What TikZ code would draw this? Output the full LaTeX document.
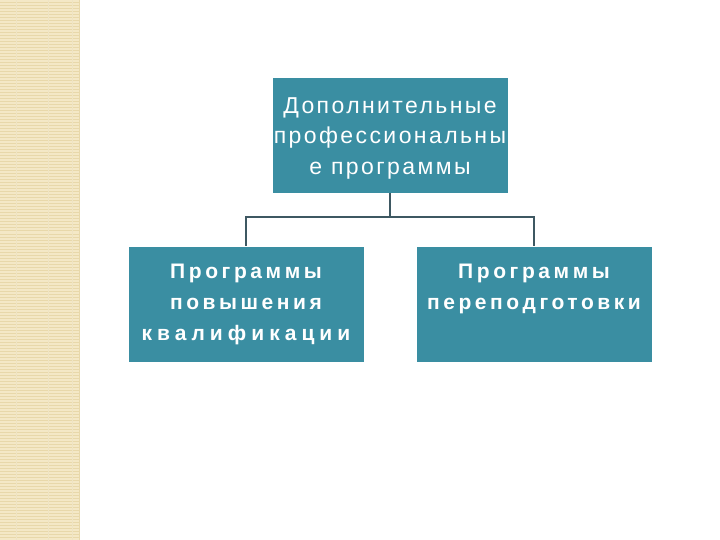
\documentclass[tikz,border=0pt]{standalone}
\usepackage{fontspec}
\setmainfont{Liberation Sans}
\newfontfamily\topfont[LetterSpace=10.5]{Liberation Sans}
\newfontfamily\lowfont[LetterSpace=17]{Liberation Sans Bold}
\newfontfamily\lowfontwide[LetterSpace=24]{Liberation Sans Bold}
\definecolor{boxteal}{HTML}{3A8EA2}
\definecolor{linegray}{HTML}{3E5862}
\definecolor{stripbg}{HTML}{F4E8C6}
\definecolor{stripln}{HTML}{E8D8AA}
\tikzset{
  orgbox/.style={fill=boxteal, draw=white, line width=0.8pt, text=white, align=center, minimum width=236pt, minimum height=116pt, inner sep=0pt},
  boxtext/.style={text=white, align=center, inner sep=0pt},
  conn/.style={draw=linegray, line width=1.4pt}
}
\begin{document}
\begin{tikzpicture}[x=1pt,y=-1pt]
\useasboundingbox (0,0) rectangle (720,540);
\fill[white] (0,0) rectangle (720,540);
% decorative strip
\fill[stripbg] (0,0) rectangle (79,540);
\foreach \yy in {0,3,...,540} {\draw[stripln, line width=1pt] (0,\yy) -- (79,\yy);}
\foreach \xx in {16,48,72} {\draw[stripln!70, line width=0.6pt] (\xx,0) -- (\xx,540);}
\draw[stripln, line width=0.6pt] (79,0) -- (79,540);
% nodes
\node[orgbox] (top) at (390,135) {};
\node[boxtext, font=\topfont\fontsize{23}{30.5}\selectfont] (toptext) at ([yshift=-3pt]top.center) {Дополнительные\\профессиональны\\е программы};
\node[orgbox, font=\lowfont\fontsize{21}{31}\selectfont] (left) at (246,304) {Программы\\повышения\\{\lowfontwide квалификации}};
\node[orgbox, font=\lowfont\fontsize{21}{31}\selectfont] (right) at (534,304) {Программы\\переподготовки\\\phantom{q}};
% connectors
\coordinate (bus) at (390,217);
\draw[conn] (top.south) -- (bus);
\draw[conn] (left.north) |- (bus) -| (right.north);
\end{tikzpicture}
\end{document}
